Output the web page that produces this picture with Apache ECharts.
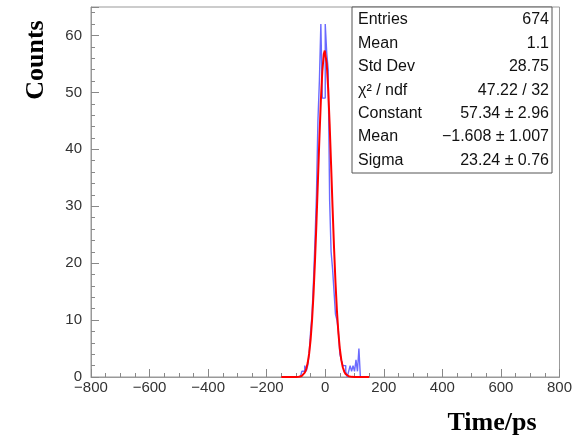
<!DOCTYPE html>
<html>
<head>
<meta charset="utf-8">
<script src="https://cdn.jsdelivr.net/npm/echarts@6/dist/echarts.min.js"></script>
<style>
html,body{margin:0;padding:0;background:#fff;}
#c{width:575px;height:437px;}
</style>
</head>
<body>
<div id="c"></div>
<script>
// Histogram bins (lower edge, ps) and counts (bin width 5 ps)
const binLow = [-85,-80,-75,-70,-65,-60,-55,-50,-45,-40,-35,-30,-25,-20,-15,-10,-5,0,5,10,15,20,25,30,35,40,45,50,55,60,65,70,75,80,85,90,95,100,105,110,115];
const binCounts = [0,1,1,2,1,2,4,8,11,17,24,32,45,52,62,49,49,62,57,54,31,22,19,15,11,10,8,4,3,2,2,1,0,1,2,1,2,1,3,1,5];
const binUpperEnd = 120;

// Gaussian fit curve sample points read from the fit (x in ps, y in counts)
const fitX = [-150,-125,-100,-95,-90,-85,-80,-75,-70,-65,-60,-55,-50,-45,-40,-35,-30,-25,-20,-15,-10,-5,-1.6,0,5,10,15,20,25,30,35,40,45,50,55,60,65,70,75,80,85,90,100,125,150];
const fitY = [0,0,0.007,0.018,0.041,0.092,0.19,0.39,0.76,1.39,2.44,4.09,6.55,10.02,14.65,20.41,27.17,34.53,41.9,48.54,53.71,56.73,57.34,57.2,55.08,50.63,44.44,37.24,29.78,22.75,16.59,11.56,7.68,4.88,2.96,1.71,0.94,0.50,0.25,0.12,0.055,0.024,0.004,0,0];

// Axis ranges and tick steps
const xRange = [-800, 800];
const xStep = 200;
const yRange = [0, 65];
const yStep = 10;

// Stats box texts
const statLabels = ['Entries','Mean','Std Dev','\u03C7\u00B2 / ndf','Constant','Mean','Sigma'];
const statValues = ['674','1.1','28.75','47.22 / 32','57.34 \u00B1 2.96','\u22121.608 \u00B1 1.007','23.24 \u00B1 0.76'];

const yTitle = 'Counts';
const xTitle = 'Time/ps';

const histData = binLow.map((x, i) => [x, binCounts[i]]);
histData.push([binUpperEnd, 0]);
const fitData = fitX.map((x, i) => [x, fitY[i]]);

const chart = echarts.init(document.getElementById('c'), null, {renderer: 'canvas'});

const statElems = [];
const boxL = 352, boxT = 7, boxW = 200, boxH = 166;
statElems.push({
  type: 'rect', shape: {x: boxL, y: boxT, width: boxW, height: boxH},
  style: {fill: '#fff', stroke: '#555', lineWidth: 1}, z: 100
});
statLabels.forEach((t, i) => {
  const cy = 20 + i * 23.4;
  statElems.push({type: 'text', x: 358, y: cy, z: 101,
    style: {text: t, font: '16px "Liberation Sans", Arial, sans-serif', fill: '#111', textAlign: 'left', textVerticalAlign: 'middle', verticalAlign: 'middle'}});
  statElems.push({type: 'text', x: 549, y: cy, z: 101,
    style: {text: statValues[i], font: '16px "Liberation Sans", Arial, sans-serif', fill: '#111', textAlign: 'right', textVerticalAlign: 'middle', verticalAlign: 'middle'}});
});
statElems.push({type: 'text', x: 36, y: 60, rotation: Math.PI / 2, z: 101,
  style: {text: yTitle, font: 'bold 26px "Liberation Serif", "Times New Roman", serif', fill: '#000', textAlign: 'center', textVerticalAlign: 'middle', verticalAlign: 'middle'}});
statElems.push({type: 'text', x: 492, y: 423, z: 101,
  style: {text: xTitle, font: 'bold 26px "Liberation Serif", "Times New Roman", serif', fill: '#000', textAlign: 'center', textVerticalAlign: 'middle', verticalAlign: 'middle'}});

const labelStyle = {color: '#333', fontSize: 15, fontFamily: '"Liberation Sans", Arial, sans-serif'};

chart.setOption({
  animation: false,
  backgroundColor: '#fff',
  grid: {left: 91, right: 14, top: 7, bottom: 60, show: true, borderColor: '#999', borderWidth: 1, backgroundColor: 'transparent'},
  xAxis: {
    type: 'value', min: xRange[0], max: xRange[1], interval: xStep,
    axisLine: {show: true, onZero: false, lineStyle: {color: '#999', width: 1}},
    axisTick: {show: true, inside: true, length: 8, lineStyle: {color: '#888'}},
    minorTick: {show: true, splitNumber: 4, length: 4, lineStyle: {color: '#888'}},
    splitLine: {show: false},
    axisLabel: Object.assign({margin: 3, formatter: v => String(v).replace('-', '\u2212')}, labelStyle)
  },
  yAxis: {
    type: 'value', min: yRange[0], max: yRange[1], interval: yStep,
    axisLine: {show: true, onZero: false, lineStyle: {color: '#999', width: 1}},
    axisTick: {show: true, inside: true, length: 8, lineStyle: {color: '#888'}},
    minorTick: {show: true, splitNumber: 5, length: 4, lineStyle: {color: '#888'}},
    splitLine: {show: false},
    axisLabel: Object.assign({margin: 9, showMaxLabel: false}, labelStyle)
  },
  graphic: statElems,
  series: [
    {
      type: 'line', data: histData, step: 'end', symbol: 'none',
      lineStyle: {color: '#6a6aff', width: 1.4}, z: 3, clip: true
    },
    {
      type: 'line', data: fitData, symbol: 'none', smooth: false,
      lineStyle: {color: '#ff0000', width: 2}, z: 4, clip: true
    }
  ]
});
</script>
</body>
</html>
